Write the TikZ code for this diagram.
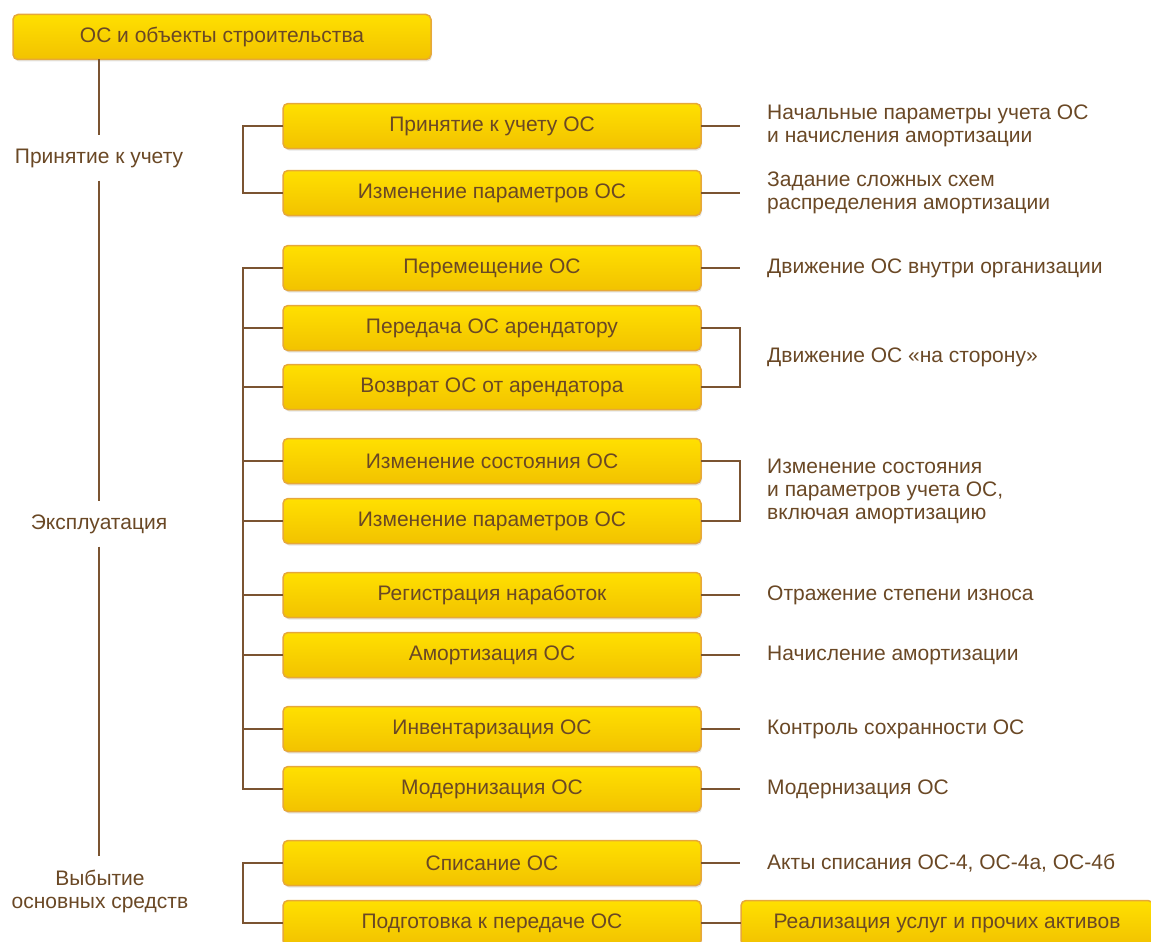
\documentclass[tikz,border=0pt]{standalone}
\usepackage{fontspec}
\setmainfont{Liberation Sans}
\usetikzlibrary{positioning,calc,shadows}
\definecolor{boxtop}{HTML}{FFE000}
\definecolor{boxbot}{HTML}{F2C200}
\definecolor{boxline}{HTML}{E6A83A}
\definecolor{linkcol}{HTML}{7B5431}
\definecolor{txt}{HTML}{6A4825}

\begin{document}
\begin{tikzpicture}[
  x=1pt, y=1pt,
  node distance=15pt,
  font=\fontsize{21}{23}\selectfont,
  box/.style={draw=boxline, line width=1.5pt, rounded corners=5pt, outer sep=0pt,
    top color=boxtop, bottom color=boxbot, minimum width=418pt, minimum height=45pt,
    text=txt, drop shadow={shadow xshift=1pt, shadow yshift=-2pt, opacity=.2}},
  note/.style={align=left, text=txt, inner sep=0pt},
  stage/.style={align=center, text=txt, inner xsep=0pt, inner ysep=13pt},
  link/.style={draw=linkcol, line width=2.2pt}
]
\useasboundingbox (0,0) rectangle (1151,-942);
\node[box] (root) at (222,-37) {ОС и объекты строительства};
\node[box] (p1) at (492,-126) {Принятие к учету ОС};
\node[box, below=22pt of p1] (p2) {Изменение параметров ОС};
\node[box, below=30pt of p2] (p3) {Перемещение ОС};
\node[box, below=of p3] (p4) {Передача ОС арендатору};
\node[box, below=14pt of p4] (p5) {Возврат ОС от арендатора};
\node[box, below=29pt of p5] (p6) {Изменение состояния ОС};
\node[box, below=of p6] (p7) {Изменение параметров ОС};
\node[box, below=29pt of p7] (p8) {Регистрация наработок};
\node[box, below=of p8] (p9) {Амортизация ОС};
\node[box, below=29pt of p9] (p10) {Инвентаризация ОС};
\node[box, below=of p10] (p11) {Модернизация ОС};
\node[box, below=29pt of p11] (p12) {Списание ОС};
\node[box, below=of p12] (p13) {Подготовка к передаче ОС};
\node[box, minimum width=412pt, right=40pt of p13] (sale) {Реализация услуг и прочих активов};
\coordinate (m45) at ($(p4.east)!.5!(p5.east)$);
\coordinate (m67) at ($(p6.east)!.5!(p7.east)$);
\node[note, right=66pt of p1] (n1) {Начальные параметры учета ОС\\и начисления амортизации};
\node[note, right=66pt of p2] (n2) {Задание сложных схем\\распределения амортизации};
\node[note, right=66pt of p3] (n3) {Движение ОС внутри организации};
\node[note, right=66pt of m45] (n45) {Движение ОС «на сторону»};
\node[note, right=66pt of m67] (n67) {Изменение состояния\\и параметров учета ОС,\\включая амортизацию};
\node[note, right=66pt of p8] (n8) {Отражение степени износа};
\node[note, right=66pt of p9] (n9) {Начисление амортизации};
\node[note, right=66pt of p10] (n10) {Контроль сохранности ОС};
\node[note, right=66pt of p11] (n11) {Модернизация ОС};
\node[note, right=66pt of p12] (n12) {Акты списания ОС-4, ОС-4а, ОС-4б};
\node[stage] (s1) at (99,-158) {Принятие к учету};
\node[stage] (s2) at (99,-524) {Эксплуатация};
\node[stage] (s3) at (100,-891) {Выбытие\\основных средств};
\draw[link] (s1 |- root.south) -- (s1.north);
\draw[link] (s1.south) -- (s2.north);
\draw[link] (s2.south) -- (s3.north -| s1);
\draw[link] (p1.west) -- ++(-40,0) |- (p2.west);
\draw[link] (p3.west) -- ++(-40,0) |- (p11.west);
\foreach \n in {4,...,10} \draw[link] (p\n.west) -- ++(-40,0);
\draw[link] (p12.west) -- ++(-40,0) |- (p13.west);
\foreach \n in {1,2,3,8,9,10,11,12} \draw[link] (p\n.east) -- ++(39,0);
\draw[link] (p4.east) -- ++(39,0) |- (p5.east);
\draw[link] (p6.east) -- ++(39,0) |- (p7.east);
\draw[link] (p13) -- (sale);
\end{tikzpicture}
\end{document}
